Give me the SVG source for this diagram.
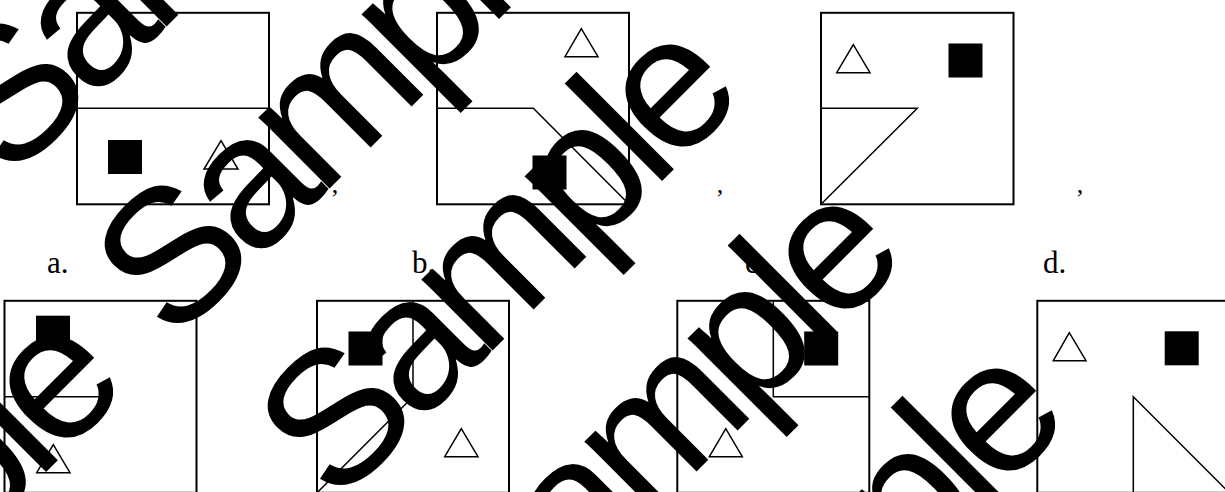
<svg xmlns="http://www.w3.org/2000/svg" width="1225" height="492" viewBox="0 0 1225 492">
<style>
.box{fill:none;stroke:#000;stroke-width:2}
.ln{fill:none;stroke:#000;stroke-width:1.5}
.tri{fill:#fff;stroke:#000;stroke-width:1.5}
.sq{fill:#000}
.lbl{font-family:"Liberation Serif","Times New Roman",serif;font-size:31px;fill:#000}
.cm{font-family:"Liberation Serif","Times New Roman",serif;font-size:26px;fill:#000}
.wm{font-family:"Liberation Sans",Arial,sans-serif;font-size:190px;letter-spacing:-12px;fill:#000}
</style>
<rect width="1225" height="492" fill="#fff"/>
<g id="q1">
<rect class="box" x="77" y="12.8" width="192" height="191.5"/>
<line class="ln" x1="77" y1="108.3" x2="269" y2="108.3"/>
<rect class="sq" x="108" y="140" width="34" height="34"/>
<polygon class="tri" points="221,140.7 204,169 238,169"/>
</g>
<g id="q2">
<rect class="box" x="437" y="12.8" width="192" height="191.5"/>
<polyline class="ln" points="437,108.3 533.3,108.3 629,204.3"/>
<polygon class="tri" points="581.3,28.7 565,56.7 598,56.7"/>
<rect class="sq" x="532.5" y="155.5" width="34" height="34"/>
</g>
<g id="q3">
<rect class="box" x="821" y="12.8" width="192.5" height="191.5"/>
<polyline class="ln" points="821,108.3 917.3,108.3 821,204.3"/>
<polygon class="tri" points="853.3,44.7 836.7,72.7 870,72.7"/>
<rect class="sq" x="948.5" y="43.5" width="34" height="34"/>
</g>
<g id="commas" class="cm">
<text x="331.7" y="193">,</text>
<text x="716.7" y="193">,</text>
<text x="1076.7" y="193">,</text>
</g>
<g id="labels" class="lbl">
<text x="47" y="273">a.</text>
<text x="412" y="273">b.</text>
<text x="745" y="273">c.</text>
<text x="1043" y="273">d.</text>
</g>
<g id="optA">
<rect class="box" x="4.5" y="300.8" width="192" height="192"/>
<line class="ln" x1="4.5" y1="396.7" x2="100.5" y2="396.7"/>
<rect class="sq" x="36" y="315.7" width="34" height="34"/>
<polygon class="tri" points="53.3,444.7 36.7,472.7 70,472.7"/>
</g>
<g id="optB">
<rect class="box" x="317" y="300.8" width="192" height="192"/>
<polyline class="ln" points="413,300.8 413,396.8 317,492.8"/>
<rect class="sq" x="348.5" y="331.5" width="34" height="34"/>
<polygon class="tri" points="461.3,428.7 444.7,456.7 478,456.7"/>
</g>
<g id="optC">
<rect class="box" x="677.3" y="300.8" width="192" height="192"/>
<polyline class="ln" points="773.3,300.8 773.3,396.8 869.3,396.8"/>
<rect class="sq" x="804.2" y="331.5" width="34" height="34"/>
<polygon class="tri" points="725.8,428.7 709.3,456.7 742.3,456.7"/>
</g>
<g id="optD">
<rect class="box" x="1037.3" y="300.8" width="192" height="192"/>
<polyline class="ln" points="1133.3,492.8 1133.3,396.8 1229.3,492.8"/>
<polygon class="tri" points="1069.3,332.7 1053.3,360.7 1086,360.7"/>
<rect class="sq" x="1164.7" y="331.3" width="34" height="34"/>
</g>
<g id="watermark" class="wm">
<text x="10" y="183" transform="rotate(-45 10 183)">Sample</text>
<text x="173" y="345" transform="rotate(-45 173 345)">Sample</text>
<text x="336" y="507" transform="rotate(-45 336 507)">Sample</text>
<text x="499" y="669" transform="rotate(-45 499 669)">Sample</text>
<text x="662" y="831" transform="rotate(-45 662 831)">Sample</text>
<text x="-280" y="798" transform="rotate(-45 -280 798)">Sample</text>
</g>
</svg>
